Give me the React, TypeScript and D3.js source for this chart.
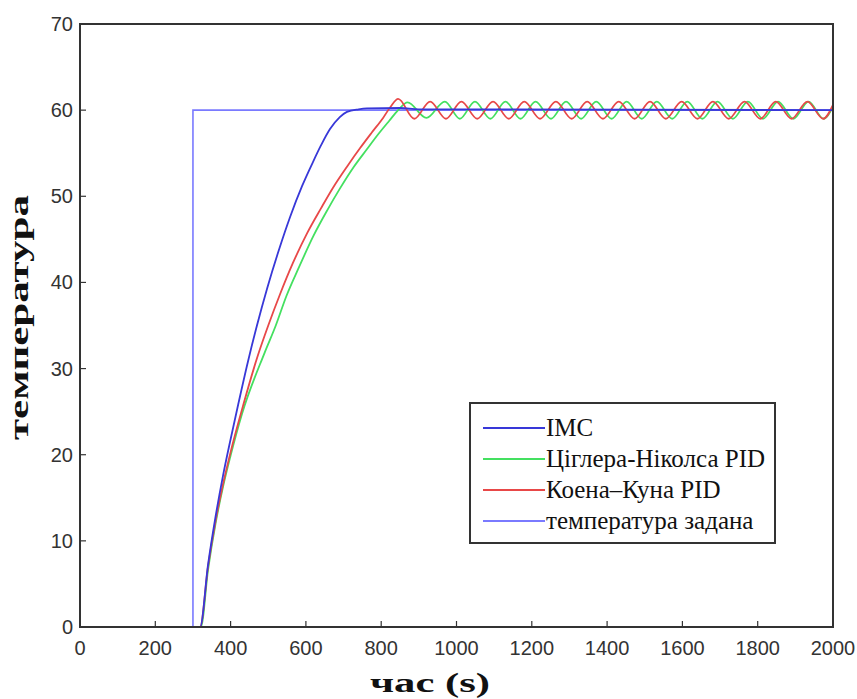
import React from 'react';
import * as d3 from 'd3';

// time (s) / temperature samples
const setpoint: [number, number][] = [[0, 0], [300, 0], [300, 60], [2000, 60]];

const imc: [number, number][] = [
  [0, 0], [319, 0], [340, 7.2], [360, 12.8], [380, 17.6], [400, 21.8], [420, 25.8], [446, 30.8],
  [470, 35], [497, 39.3], [530, 44], [558, 47.6], [590, 51.2], [619, 54], [640, 55.9], [664, 57.8],
  [690, 59.2], [709, 59.8], [740, 60.1], [762, 60.2], [850, 60.25], [900, 60.1], [2000, 60],
];

const zieglerNichols: [number, number][] = [
  [0, 0], [321, 0], [340, 6.6], [360, 12], [380, 16.3], [400, 19.9], [430, 24.7], [490, 31.8],
  [520, 35], [548, 38.4], [582, 41.8], [620, 45.4], [657, 48.4], [689, 50.8], [727, 53.4],
  [761, 55.4], [792, 57.2], [822, 58.8], [845, 60], [870, 60.9], [920, 59.1], [969, 61],
  [1009, 59], [1049, 61], [1090, 59], [1130, 61], [1170, 59], [1210, 61], [1251, 59],
  [1291, 61], [1331, 59], [1371, 61], [1412, 59], [1452, 61], [1492, 59], [1532, 61],
  [1573, 59], [1613, 61], [1653, 59], [1693, 61], [1734, 59], [1774, 61], [1814, 59],
  [1854, 61], [1895, 59], [1935, 61], [1975, 59], [2000, 60.4],
];

const cohenCoon: [number, number][] = [
  [0, 0], [319, 0], [340, 7], [360, 12.3], [380, 16.6], [400, 20.3], [430, 25.2], [473, 31.6],
  [500, 35], [531, 38.6], [565, 42.2], [603, 45.7], [640, 48.6], [672, 51], [710, 53.5],
  [744, 55.6], [775, 57.4], [805, 59.1], [825, 60.4], [845, 61.3], [888, 59], [930, 61],
  [972, 59], [1013, 61], [1055, 59], [1097, 61], [1139, 59], [1180, 61], [1222, 59],
  [1264, 61], [1306, 59], [1347, 61], [1389, 59], [1431, 61], [1473, 59], [1514, 61],
  [1556, 59], [1598, 61], [1640, 59], [1681, 61], [1723, 59], [1765, 61], [1807, 59],
  [1848, 61], [1890, 59], [1932, 61], [1974, 59], [2000, 60.6],
];

const xTicks = [0, 200, 400, 600, 800, 1000, 1200, 1400, 1600, 1800, 2000];
const yTicks = [0, 10, 20, 30, 40, 50, 60, 70];

const legendItems = [
  { label: 'IMC', color: '#3838d8' },
  { label: 'Цiглера-Нiколса PID', color: '#44e060' },
  { label: 'Коена–Куна PID', color: '#e84848' },
  { label: 'температура задана', color: '#7a7aff' },
];

const W = 857;
const H = 699;

export default function App() {
  const x = d3.scaleLinear().domain([0, 2000]).range([80, 833]);
  const y = d3.scaleLinear().domain([0, 70]).range([627, 24]);

  const smooth = d3.line<[number, number]>()
    .x(d => x(d[0]))
    .y(d => y(d[1]))
    .curve(d3.curveMonotoneX);
  const step = d3.line<[number, number]>()
    .x(d => x(d[0]))
    .y(d => y(d[1]));

  const tickFont = '"Liberation Sans", Arial, sans-serif';
  const serif = '"Liberation Serif", serif';

  return (
    <svg width={W} height={H} style={{ position: 'absolute', left: 0, top: 0, background: '#fff' }}>
      {/* curves */}
      <path d={step(setpoint) || ''} fill="none" stroke={legendItems[3].color} strokeWidth={1.6} />
      <path d={smooth(zieglerNichols) || ''} fill="none" stroke={legendItems[1].color} strokeWidth={1.8} />
      <path d={smooth(cohenCoon) || ''} fill="none" stroke={legendItems[2].color} strokeWidth={1.8} />
      <path d={smooth(imc) || ''} fill="none" stroke={legendItems[0].color} strokeWidth={1.8} />

      {/* frame */}
      <rect x={x(0)} y={y(70)} width={x(2000) - x(0)} height={y(0) - y(70)}
        fill="none" stroke="#333" strokeWidth={2} />

      {/* x ticks */}
      {xTicks.map(t => (
        <g key={'x' + t}>
          <line x1={x(t)} x2={x(t)} y1={y(0)} y2={y(0) - 6} stroke="#333" strokeWidth={1.2} />
          <text x={x(t)} y={655} textAnchor="middle" fontFamily={tickFont} fontSize={20} fill="#333">{t}</text>
        </g>
      ))}
      {/* y ticks */}
      {yTicks.map(t => (
        <g key={'y' + t}>
          <line x1={x(0)} x2={x(0) + 6} y1={y(t)} y2={y(t)} stroke="#333" strokeWidth={1.2} />
          <text x={73} y={y(t) + 7} textAnchor="end" fontFamily={tickFont} fontSize={20} fill="#333">{t}</text>
        </g>
      ))}

      {/* axis labels */}
      <text x={370} y={692} fontFamily={serif} fontWeight="bold" fontSize={28} fill="#111"
        textLength={120} lengthAdjust="spacingAndGlyphs">час (s)</text>
      <text transform={`translate(28,440) rotate(-90)`} fontFamily={serif}
        fontWeight="bold" fontSize={28} fill="#111" textLength={245} lengthAdjust="spacingAndGlyphs">температура</text>

      {/* legend */}
      <rect x={470} y={403} width={305} height={140} fill="#fff" stroke="#333" strokeWidth={2} />
      {legendItems.map((it, i) => {
        const cy = 428 + i * 31;
        return (
          <g key={it.label}>
            <line x1={483} x2={545} y1={cy} y2={cy} stroke={it.color} strokeWidth={1.8} />
            <text x={546} y={cy + 8} style={{ fontFamily: serif }} fontSize={25} fill="#111">{it.label}</text>
          </g>
        );
      })}
    </svg>
  );
}
